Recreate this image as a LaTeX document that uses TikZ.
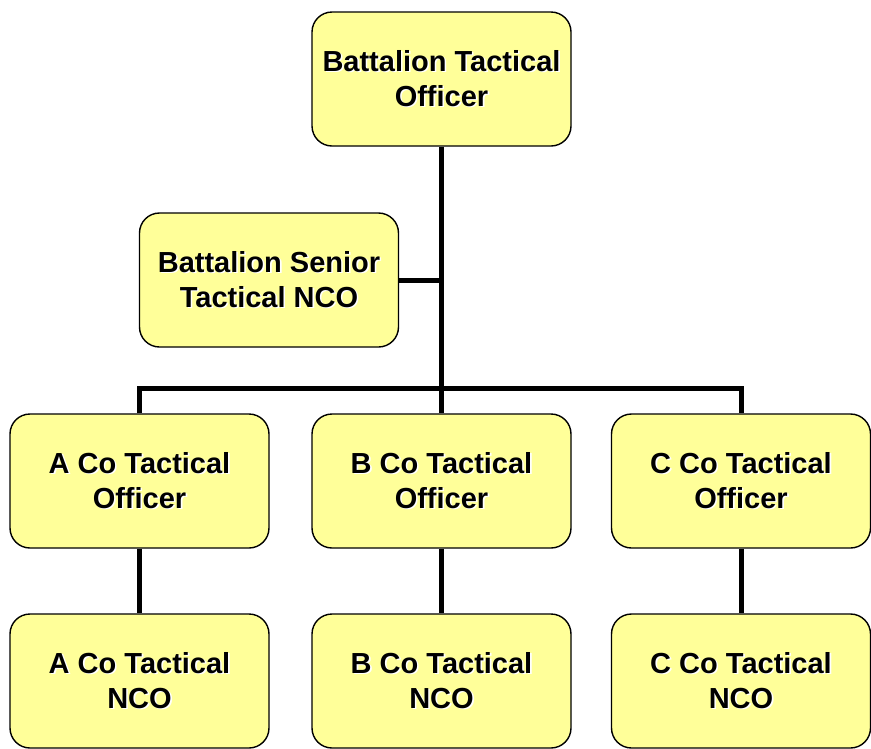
\documentclass[tikz,border=0pt]{standalone}
\usepackage{fontspec}
\setmainfont{Liberation Sans}
\usepackage{tikz}
\usetikzlibrary{positioning}
\definecolor{boxyellow}{RGB}{255,255,153}

% text with a light shadow
\newcommand{\shline}[1]{\makebox[0pt][l]{\hspace{1.6pt}\raisebox{-1.6pt}{\color{white}#1}}#1}

\tikzset{
  post/.style={draw=black, line width=1.4pt, fill=boxyellow, rounded corners=20pt,
    minimum width=259pt, minimum height=134pt, inner sep=0pt, align=center,
    font=\fontsize{29}{35}\selectfont\bfseries},
  link/.style={line width=5pt}
}

\begin{document}
\begin{tikzpicture}[x=1pt,y=-1pt]
\useasboundingbox (0,0) rectangle (871,748);

\node [post] (btac) at (441.5,79) {\shline{Battalion Tactical}\\\shline{Officer}};
\node [post] (bsnco) at (269,280) {\shline{Battalion Senior}\\\shline{Tactical NCO}};

\node [post] (acot) at (139.5,481) {\shline{A Co Tactical}\\\shline{Officer}};
\node [post] (bcot) at (441.5,481) {\shline{B Co Tactical}\\\shline{Officer}};
\node [post] (ccot) at (741,481) {\shline{C Co Tactical}\\\shline{Officer}};

\node [post] (anco) at (139.5,681) {\shline{A Co Tactical}\\\shline{NCO}};
\node [post] (bnco) at (441.5,681) {\shline{B Co Tactical}\\\shline{NCO}};
\node [post] (cnco) at (741,681) {\shline{C Co Tactical}\\\shline{NCO}};

\coordinate (bus) at (441.5,388);

\begin{scope}[on background layer/.try]
\draw [link] (btac.south) -- (bcot.north);
\draw [link] (bsnco.east) -- (bsnco.east -| btac.south);
\draw [link] (acot.north) |- (bus) -| (ccot.north);
\draw [link] (acot) -- (anco);
\draw [link] (bcot) -- (bnco);
\draw [link] (ccot) -- (cnco);
\end{scope}
\end{tikzpicture}
\end{document}
